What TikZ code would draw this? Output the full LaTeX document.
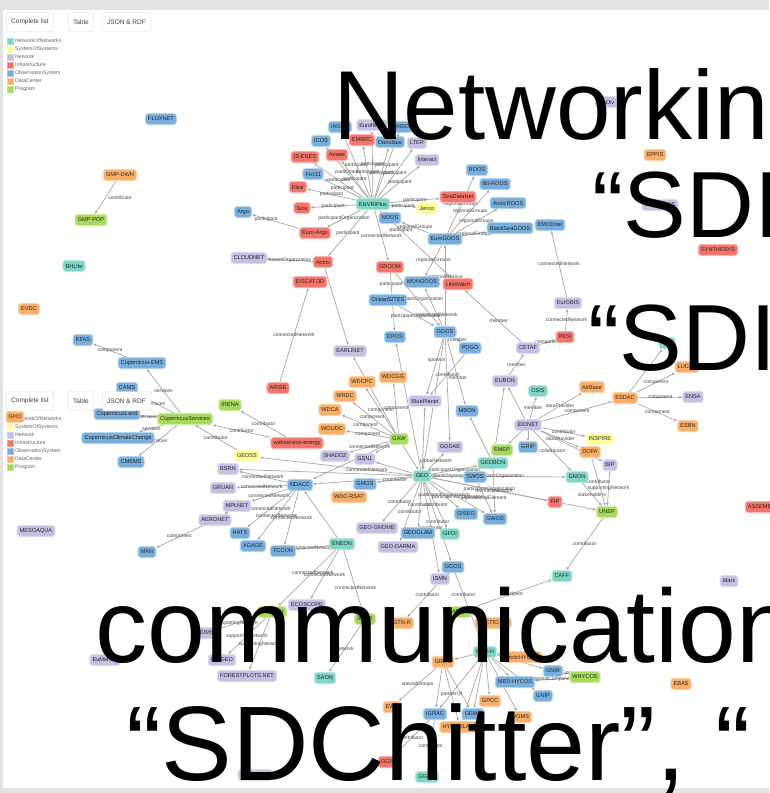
\documentclass[tikz,border=0pt]{standalone}
\usepackage{fontspec}
\setmainfont{Liberation Sans}
\usepackage{xcolor}
\definecolor{kindNoN}{HTML}{7ED6C4}
\definecolor{kindSoS}{HTML}{FFFF99}
\definecolor{kindNet}{HTML}{C5BFE3}
\definecolor{kindInfra}{HTML}{F2746A}
\definecolor{kindObs}{HTML}{78AEDB}
\definecolor{kindData}{HTML}{F8AE66}
\definecolor{kindProg}{HTML}{A7DA5C}
\definecolor{linkGray}{HTML}{A8A8A8}
\definecolor{relText}{HTML}{474747}
\definecolor{pageGray}{HTML}{E2E3E5}
\definecolor{btnLine}{HTML}{DADADA}
\usetikzlibrary{arrows.meta,backgrounds}
\pgfdeclarelayer{panel}
\pgfsetlayers{panel,background,main}

\tikzset{
  box/.style={rounded corners=2.8pt, inner xsep=2.6pt, inner ysep=2pt, minimum height=11pt, line width=1pt, font=\fontsize{5.6}{6}\selectfont, text=black!85},
  NoN/.style={box, fill=kindNoN, draw=kindNoN!55},
  SoS/.style={box, fill=kindSoS, draw=kindSoS!55},
  Net/.style={box, fill=kindNet, draw=kindNet!55},
  Infra/.style={box, fill=kindInfra, draw=kindInfra!55},
  Obs/.style={box, fill=kindObs, draw=kindObs!55},
  Data/.style={box, fill=kindData, draw=kindData!55},
  Prog/.style={box, fill=kindProg, draw=kindProg!55},
  link/.style={draw=linkGray, line width=0.7pt, -{Latex[length=3pt,width=2.8pt]}},
  rel/.style={midway, font=\fontsize{5}{5}\selectfont, text=relText, inner sep=0.4pt},
  btn/.style={draw=btnLine, fill=white, rounded corners=2pt, minimum height=19pt, font=\fontsize{6.5}{7}\selectfont, text=black!75, anchor=west, inner xsep=5pt},
  legendbox/.style={minimum size=6pt, inner sep=0pt, fill=#1, draw=#1!70},
  legendtext/.style={font=\fontsize{5.2}{6}\selectfont, text=black!60, anchor=west, inner sep=0pt},
  slide/.style={font=\fontsize{#1}{#1}\selectfont, anchor=base west, inner sep=0pt},
}

\begin{document}
\begin{tikzpicture}[x=1pt,y=-1pt]
  \useasboundingbox (0,0) rectangle (769,793);
  \begin{pgfonlayer}{panel}
    \fill[pageGray] (0,0) rectangle (769,793);
    \fill[white] (3,10) rectangle (769,788);
  \end{pgfonlayer}

  % buttons and legend
  \node[btn] (list) at (6,22) {Complete list};
  \node[btn] (table) at (68,22) {Table};
  \node[btn] (json) at (102,22) {JSON \& RDF};
  \foreach \kind/\name [count=\i] in {kindNoN/NetworkOfNetworks, kindSoS/SystemOfSystems, kindNet/Network, kindInfra/Infrastructure, kindObs/ObservationSystem, kindData/DataCenter, kindProg/Program} {
    \node[legendbox=\kind] (key\i) at (10,33+8*\i) {};
    \node[legendtext] (keytext\i) at (15,33+8*\i) {\name};
  }

  % top part
  \node[Obs] (fluxnet) at (161,119) {FLUXNET};
  \node[Data] (gmpdwh) at (120,175) {GMP-DWH};
  \node[Prog] (gmppop) at (91,220) {GMP-POP};
  \node[NoN] (bhlife) at (74,266) {BHLife};
  \node[Data] (evdc) at (29,309) {EVDC};
  \node[Obs] (argo) at (243,212) {Argo};
  \node[Net] (cloudnet) at (249,258) {CLOUDNET};
  \node[Obs] (icos) at (321,141) {ICOS};
  \node[Obs] (iagos) at (340,127) {IAGOS};
  \node[Net] (eurofleets) at (372,125) {Eurofleets};
  \node[Obs] (emso) at (401,127) {EMSO};
  \node[Infra] (embrc) at (362,140) {EMBRC};
  \node[Obs] (danubius) at (390,142) {Danubius};
  \node[Net] (lter) at (417,143) {LTER};
  \node[Net] (interact) at (427,160) {Interact};
  \node[Infra] (isenes) at (305,157) {IS-ENES};
  \node[Infra] (anaee) at (337,155) {Anaee};
  \node[Obs] (fixo3) at (313,174) {FixO3};
  \node[Infra] (elixir) at (298,187) {Elixir};
  \node[Infra] (sios) at (302,208) {Sios};
  \node[NoN] (envri) at (373,204) {ENVRIPlus};
  \node[SoS] (jerico) at (427,208) {Jerico};
  \node[Obs] (noos) at (390,218) {NOOS};
  \node[Infra] (seadatanet) at (458,197) {SeaDataNet};
  \node[Obs] (boos) at (477,170) {BOOS};
  \node[Obs] (ibiroos) at (495,184) {IBI-ROOS};
  \node[Obs] (arcticroos) at (508,203) {ArcticROOS};
  \node[Infra] (euroargo) at (315,233) {Euro-Argo};
  \node[Obs] (blacksea) at (510,228) {BlackSeaGOOS};
  \node[Obs] (emodnet) at (550,225) {EMODnet};
  \node[Obs] (eurogoos) at (445,239) {EuroGOOS};
  \node[Infra] (actris) at (323,262) {Actris};
  \node[Infra] (groom) at (390,267) {GROOM};
  \node[Infra] (eiscat) at (310,282) {EISCAT-3D};
  \node[Obs] (mongoos) at (422,282) {MONGOOS};
  \node[Infra] (lifewatch) at (458,284) {LifeWatch};
  \node[Obs] (oceansites) at (388,300) {OceanSITES};
  \node[Net] (eurobis) at (568,303) {EurOBIS};
  \node[Obs] (epos) at (395,337) {EPOS};
  \node[Obs] (goos) at (445,332) {GOOS};
  \node[Infra] (pesi) at (565,337) {PESI};
  \node[Net] (cetaf) at (528,348) {CETAF};
  \node[Obs] (pogo) at (470,348) {POGO};
  \node[Net] (earlinet) at (350,351) {EARLINET};
  \node[Net] (biodiv) at (606,102) {BioDiv};
  \node[Data] (eppis) at (655,155) {EPPIS};
  \node[Net] (gpcgoo) at (660,205) {GPC-GOOS};
  \node[Infra] (synthesys) at (718,250) {SYNTHESYS};

  % middle part
  \node[NoN] (esp) at (667,343) {ESP};
  \node[Data] (lucas) at (687,367) {LUCAS};
  \node[Infra] (arise) at (278,388) {ARISE};
  \node[Data] (wdcpc) at (362,382) {WDCPC};
  \node[Data] (wdcgg) at (393,377) {WDCGG};
  \node[Net] (eubon) at (505,381) {EUBON};
  \node[NoN] (osis) at (538,391) {OSIS};
  \node[Data] (airbase) at (592,387) {AirBase};
  \node[Data] (esdac) at (625,398) {ESDAC};
  \node[Net] (ensa) at (693,397) {ENSA};
  \node[Prog] (irena) at (230,405) {IRENA};
  \node[Data] (wrdc) at (345,396) {WRDC};
  \node[Net] (blueplanet) at (425,401) {BluePlanet};
  \node[Obs] (mbon) at (467,411) {MBON};
  \node[Data] (wdca) at (330,410) {WDCA};
  \node[Data] (woudc) at (332,429) {WOUDC};
  \node[Data] (esbn) at (688,426) {ESBN};
  \node[Net] (eionet) at (528,425) {EIONET};
  \node[Prog] (gaw) at (399,439) {GAW};
  \node[Infra] (webenergy) at (297,443) {webservice-energy};
  \node[Net] (godae) at (450,447) {GODAE};
  \node[Prog] (emep) at (502,450) {EMEP};
  \node[Obs] (grip) at (528,447) {GRIP};
  \node[SoS] (inspire) at (600,439) {INSPIRE};
  \node[Data] (dopa) at (590,452) {DOPA};
  \node[SoS] (geoss) at (247,456) {GEOSS};
  \node[Net] (shadoz) at (335,456) {SHADOZ};
  \node[Net] (gsnl) at (365,459) {GSNL};
  \node[NoN] (geobon) at (493,463) {GEOBON};
  \node[Net] (bip) at (610,465) {BIP};
  \node[Net] (bsrn) at (228,469) {BSRN};
  \node[NoN] (geo) at (422,476) {GEO};
  \node[Obs] (swos) at (475,477) {SWOS};
  \node[NoN] (gnon) at (577,477) {GNON};
  \node[Obs] (gmos) at (365,484) {GMOS};
  \node[Obs] (ndacc) at (300,485) {NDACC};
  \node[Net] (gruan) at (223,488) {GRUAN};
  \node[Data] (wdcrsat) at (349,497) {WDC-RSAT};
  \node[Infra] (fip) at (555,502) {FIP};
  \node[Net] (mplnet) at (237,506) {MPLNET};
  \node[Prog] (unep) at (607,512) {UNEP};
  \node[Infra] (assemble) at (763,507) {ASSEMBLE};
  \node[Obs] (giseo) at (466,514) {GISEO};
  \node[Obs] (gwos) at (495,519) {GWOS};
  \node[Net] (aeronet) at (215,520) {AERONET};
  \node[Net] (geognome) at (377,528) {GEO-GNOME};
  \node[Obs] (hats) at (240,533) {HATS};
  \node[Net] (mesoaqua) at (36,531) {MESOAQUA};
  \node[Obs] (geoglam) at (418,533) {GEOGLAM};
  \node[NoN] (gfoi) at (450,534) {GFOI};
  \node[NoN] (eneon) at (342,544) {ENEON};
  \node[Obs] (agage) at (253,546) {AGAGE};
  \node[Net] (geodarma) at (398,547) {GEO-DARMA};
  \node[Obs] (tccon) at (283,551) {TCCON};
  \node[Obs] (man) at (147,552) {MAN};
  \node[Obs] (gcos) at (453,567) {GCOS};
  \node[NoN] (caff) at (562,576) {CAFF};
  \node[Net] (ismn) at (440,579) {ISMN};
  \node[Net] (mars) at (729,581) {Mars};

  % copernicus group
  \node[Obs] (efas) at (83,340) {EFAS};
  \node[Obs] (copems) at (142,363) {Copernicus-EMS};
  \node[Obs] (cams) at (127,388) {CAMS};
  \node[Obs] (copland) at (117,414) {CopernicusLand};
  \node[Prog] (copservices) at (185,419) {CopernicusServices};
  \node[Obs] (copclimate) at (118,438) {CopernicusClimateChange};
  \node[Obs] (cmems) at (131,462) {CMEMS};

  % bottom part
  \node[Net] (ecoscope) at (307,605) {ECOSCOPE};
  \node[Prog] (ltereu) at (272,612) {LTER-EU};
  \node[Prog] (ilter) at (365,619) {ILTER};
  \node[Data] (gtnr) at (402,623) {GTN-R};
  \node[Prog] (amap) at (460,612) {AMAP};
  \node[Data] (arcticdc) at (493,623) {ARCTIC-DC};
  \node[Net] (deims) at (205,633) {DEIMS};
  \node[Net] (eumetnet) at (105,660) {EuMetNet};
  \node[Net] (fungeo) at (222,660) {FunGEO};
  \node[Net] (forestplots) at (247,676) {FORESTPLOTS.NET};
  \node[NoN] (saon) at (325,678) {SAON};
  \node[NoN] (gtnh) at (485,652) {GTN-H};
  \node[Data] (arctichycos) at (522,657) {ArcticHYCOS};
  \node[Data] (grdc) at (443,662) {GRDC};
  \node[Obs] (gnir) at (553,671) {GNIR};
  \node[Prog] (whycos) at (585,677) {WHYCOS};
  \node[Obs] (medhycos) at (515,682) {MED-HYCOS};
  \node[Data] (ebas) at (681,684) {EBAS};
  \node[Obs] (gnip) at (543,696) {GNIP};
  \node[Data] (gpcc) at (490,701) {GPCC};
  \node[Data] (ewa) at (392,707) {EWA};
  \node[Obs] (igrac) at (435,714) {IGRAC};
  \node[Obs] (gems) at (473,714) {GEMS};
  \node[Data] (wgms) at (520,717) {WGMS};
  \node[Data] (hydrolare) at (460,727) {HYDROLARE};
  \node[Infra] (ggis) at (388,762) {GGIS};
  \node[NoN] (ggmn) at (427,777) {GGMN};
  \node[Net] (geopros) at (255,775) {GEOPROS};

  % links
  \begin{pgfonlayer}{background}
    \draw[link] (gmpdwh) -- node[rel, right=2pt] {contributor} (gmppop);
    \foreach \dest in {icos, iagos, eurofleets, emso, embrc, danubius, lter, interact, isenes, anaee, fixo3, elixir, sios, jerico, seadatanet}
      \draw[link] (envri) -- node[rel] {participant} (\dest);
    \draw[link] (envri) -- node[rel] {participantOrganization} (euroargo);
    \draw[link] (envri) -- node[rel] {participant} (actris);
    \draw[link] (envri) -- node[rel, pos=0.3] {participant} (lifewatch);
    \draw[link] (envri) -- node[rel] {connectedNetwork} (groom);
    \draw[link] (euroargo) -- node[rel, pos=0.7] {participant} (argo);
    \draw[link] (actris) -- node[rel, pos=0.6] {participantOrganization} (cloudnet);
    \draw[link] (actris) -- (earlinet);
    \draw[link] (arise) -- node[rel] {connectedNetwork} (eiscat);
    \foreach \dest in {noos, boos, ibiroos, arcticroos, blacksea, mongoos}
      \draw[link] (eurogoos) -- node[rel] {regionalGroups} (\dest);
    \draw[link] (goos) -- node[rel, pos=0.6] {regionalAlliance} (eurogoos);
    \draw[link] (oceansites) -- node[rel] {participantOrganization} (goos);
    \draw[link] (groom) -- node[rel] {participantOrganization} (goos);
    \draw[link] (groom) -- node[rel, pos=0.2] {participant} (epos);
    \draw[link] (goos) -- node[rel, pos=0.3] {connectedNetwork} (mongoos);
    \draw[link] (pesi) -- node[rel] {connectedNetwork} (eurobis);
    \draw[link] (eurobis) -- node[rel] {connectedNetwork} (emodnet);
    \draw[link] (cetaf) -- node[rel, pos=0.4] {member} (lifewatch);
    \draw[link] (cetaf) -- node[rel] {component} (pesi);
    \draw[link] (goos) -- node[rel] {member} (pogo);
    \draw[link] (goos) -- node[rel, pos=0.4] {sponsor} (blueplanet);
    \draw[link] (goos) -- node[rel, pos=0.6] {member} (mbon);
    \draw[link] (goos) -- (godae);
    \draw[link] (goos) -- (geo);
    \draw[link] (geo) -- (epos);
    \draw[link] (pogo) -- node[rel] {contributor} (blueplanet);
    % GEO
    \foreach \dest in {gmos, geognome, geodarma, geoglam, gfoi, gcos, ismn}
      \draw[link] (geo) -- node[rel] {contributor} (\dest);
    \foreach \dest in {geobon, swos, giseo, gwos, fip, gnon}
      \draw[link] (geo) -- node[rel] {participantOrganization} (\dest);
    \draw[link] (geo) -- node[rel] {globalNetwork} (godae);
    \draw[link] (geo) -- (blueplanet);
    \draw[link] (geo) -- node[rel, pos=0.3] {connectedNetwork} (geoss);
    \draw[link] (geo) -- (bsrn);
    \draw[link] (geo) -- (ndacc);
    \draw[link] (geo) -- (gsnl);
    \draw[link] (geo) -- (unep);
    \draw[link] (gaw) -- (geo);
    % GAW
    \foreach \dest in {wdcpc, wdcgg, wrdc, wdca, woudc}
      \draw[link] (gaw) -- node[rel] {component} (\dest);
    \draw[link] (gaw) -- node[rel] {connectedNetwork} (shadoz);
    \draw[link] (gaw) -- (gsnl);
    \draw[link] (gaw) -- (ndacc);
    \draw[link] (gaw) -- (earlinet);
    \draw[link] (webenergy) -- node[rel] {contributor} (irena);
    \draw[link] (webenergy) -- node[rel] {contributor} (copservices);
    \draw[link] (geoss) -- node[rel] {contributor} (copservices);
    \foreach \dest in {copems, cams, copland, copclimate, cmems}
      \draw[link] (copservices) -- node[rel] {services} (\dest);
    \draw[link] (copems) -- node[rel] {component} (efas);
    % NDACC
    \foreach \dest in {bsrn, gruan, mplnet, hats, agage, tccon}
      \draw[link] (ndacc) -- node[rel] {connectedNetwork} (\dest);
    \draw[link] (mplnet) -- (aeronet);
    \draw[link] (aeronet) -- node[rel] {component} (man);
    \draw[link] (eneon) -- node[rel] {connectedNetwork} (tccon);
    \draw[link] (eneon) -- (ndacc);
    \draw[link] (eneon) -- node[rel] {connectedNetwork} (ecoscope);
    \draw[link] (eneon) -- node[rel, pos=0.4] {connectedNetwork} (ltereu);
    \draw[link] (eneon) -- node[rel, pos=0.6] {connectedNetwork} (ilter);
    % bottom
    \draw[link] (gcos) -- (ismn);
    \draw[link] (gcos) -- node[rel] {contributor} (gtnr);
    \draw[link] (gcos) -- node[rel, pos=0.3] {contributor} (gtnh);
    \foreach \dest in {deims, fungeo, forestplots}
      \draw[link] (ltereu) -- node[rel] {supportingNetwork} (\dest);
    \draw[link] (ilter) -- node[rel] {network} (saon);
    \draw[link] (amap) -- node[rel] {participant} (caff);
    \draw[link] (unep) -- node[rel] {contributor} (caff);
    \foreach \dest in {grdc, arctichycos, gnir, medhycos, gnip, gpcc, igrac, gems, wgms, hydrolare}
      \draw[link] (gtnh) -- (\dest);
    \draw[link] (grdc) -- node[rel] {specialGroups} (ewa);
    \draw[link] (grdc) -- (igrac);
    \draw[link] (grdc) -- (gems);
    \draw[link] (grdc) -- node[rel] {partnerOf} (hydrolare);
    \draw[link] (whycos) -- node[rel] {regionalComponent} (medhycos);
    \draw[link] (whycos) -- node[rel] {regionalComponent} (gnir);
    \draw[link] (igrac) -- node[rel] {contributor} (ggis);
    \draw[link] (igrac) -- node[rel] {contributor} (ggmn);
    % EIONET
    \draw[link] (eionet) -- node[rel] {dataProvider} (airbase);
    \draw[link] (eionet) -- node[rel] {component} (esdac);
    \draw[link] (eionet) -- node[rel] {member} (osis);
    \draw[link] (eionet) -- (eubon);
    \draw[link] (eionet) -- node[rel] {contributor} (inspire);
    \draw[link] (eionet) -- node[rel] {dataProvider} (dopa);
    \draw[link] (eionet) -- (grip);
    \draw[link] (eionet) -- (emep);
    \draw[link] (eionet) -- node[rel] {collaborator} (gnon);
    \draw[link] (eionet) -- (bip);
    \draw[link] (esdac) -- node[rel] {component} (lucas);
    \draw[link] (esdac) -- node[rel] {component} (ensa);
    \draw[link] (esdac) -- node[rel] {component} (esbn);
    \draw[link] (esdac) -- (esp);
    \draw[link] (eubon) -- node[rel] {member} (cetaf);
    \draw[link] (geobon) -- (eubon);
    \draw[link] (geobon) -- (mbon);
    \draw[link] (geobon) -- node[rel] {thematicNetwork} (gwos);
    \draw[link] (gnon) -- node[rel] {stakeholders} (unep);
    \draw[link] (bip) -- node[rel] {supportingNetwork} (unep);
    \draw[link] (dopa) -- node[rel] {contributor} (unep);
    \draw[link] (swos) -- node[rel] {operationalElement} (gwos);
  \end{pgfonlayer}

  % second copy of the buttons and legend
  \node[btn] (list2) at (6,401) {Complete list};
  \node[btn] (table2) at (68,401) {Table};
  \node[btn] (json2) at (102,401) {JSON \& RDF};
  \foreach \kind/\name [count=\i] in {kindNoN/NetworkOfNetworks, kindSoS/SystemOfSystems, kindNet/Network, kindInfra/Infrastructure, kindObs/ObservationSystem, kindData/DataCenter, kindProg/Program} {
    \node[legendbox=\kind] (keyb\i) at (10,411+8*\i) {};
    \node[legendtext] (keytextb\i) at (15,411+8*\i) {\name};
  }
  \node[Data] (gho) at (15,417) {GHO};

  % slide text on top
  \node[slide=98] (line1) at (333,139) {Networkin};
  \node[slide=94] (line2) at (592,237) {“SDI};
  \node[slide=94] (line3) at (588,370) {“SDI};
  \node[slide=104] (line4) at (95,662) {communication};
  \node[slide=106] (line5) at (126,780) {“SDChitter”, “};
\end{tikzpicture}
\end{document}
